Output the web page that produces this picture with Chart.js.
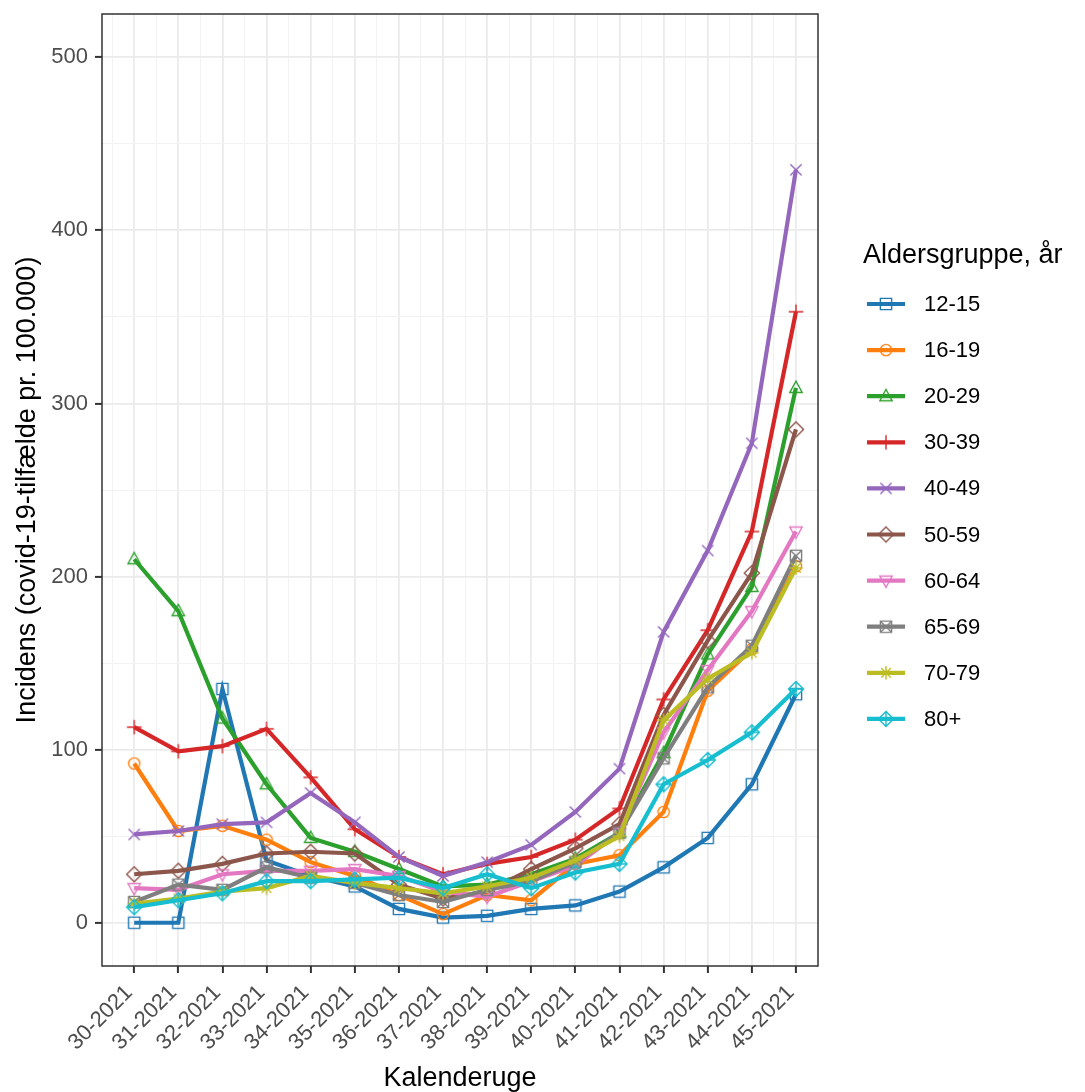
<!DOCTYPE html>
<html>
<head>
<meta charset="utf-8">
<script src="https://cdn.jsdelivr.net/npm/chart.js@4.4.1/dist/chart.umd.min.js"></script>
<style>
  html, body { margin: 0; padding: 0; background: #fff; }
  #wrap { width: 1085px; height: 1092px; }
</style>
</head>
<body>
<div id="wrap"><canvas id="incChart" width="1085" height="1092"></canvas></div>
<script>
// Uger og aldersgrupper
const weeks = ["30-2021", "31-2021", "32-2021", "33-2021", "34-2021", "35-2021", "36-2021", "37-2021",
  "38-2021", "39-2021", "40-2021", "41-2021", "42-2021", "43-2021", "44-2021", "45-2021"];
const groups = ["12-15", "16-19", "20-29", "30-39", "40-49", "50-59", "60-64", "65-69", "70-79", "80+"];

// Incidens pr. 100.000
const inc12_15 = [0, 0, 135, 36, 27, 21, 8, 3, 4, 8, 10, 18, 32, 49, 80, 132];
const inc16_19 = [92, 53, 56, 48, 35, 27, 16, 5, 16, 13, 34, 39, 64, 134, 158, 206];
const inc20_29 = [210, 180, 118, 80, 49, 41, 31, 21, 22, 28, 37, 52, 98, 155, 194, 309];
const inc30_39 = [113, 99, 102, 112, 84, 54, 38, 28, 34, 38, 48, 66, 129, 169, 226, 353];
const inc40_49 = [51, 53, 57, 58, 75, 58, 38, 27, 35, 45, 64, 89, 168, 215, 277, 435];
const inc50_59 = [28, 30, 34, 40, 41, 40, 22, 14, 18, 31, 43, 57, 120, 163, 202, 285];
const inc60_64 = [20, 19, 28, 30, 30, 31, 27, 18, 15, 24, 33, 52, 110, 146, 180, 226];
const inc65_69 = [12, 22, 19, 32, 26, 23, 16, 12, 19, 24, 35, 52, 95, 136, 160, 212];
const inc70_79 = [11, 14, 18, 20, 27, 23, 20, 17, 21, 26, 36, 50, 117, 141, 156, 205];
const inc80p = [9, 13, 17, 24, 24, 25, 26, 20, 28, 20, 29, 34, 80, 94, 110, 135];

const yTicks = [0, 100, 200, 300, 400, 500];

const seriesValues = [inc12_15, inc16_19, inc20_29, inc30_39, inc40_49, inc50_59, inc60_64, inc65_69, inc70_79, inc80p];
const colors = ["#1F77B4", "#FF7F0E", "#2CA02C", "#D62728", "#9467BD", "#8C564B", "#E377C2", "#7F7F7F", "#BCBD22", "#17BECF"];
const shapes = ["square", "circle", "triangle", "plus", "cross", "diamond", "triangleDown", "squareX", "asterisk", "diamondPlus"];

const FONT = "'Liberation Sans', Arial, sans-serif";

// ggplot-lignende markører tegnet på små canvas
function makeMarker(shape, color) {
  const S = 20, c = S / 2, r = 5.6;
  const cv = document.createElement("canvas");
  cv.width = S; cv.height = S;
  const g = cv.getContext("2d");
  g.strokeStyle = color;
  g.lineWidth = 1.4;
  g.beginPath();
  if (shape === "square" || shape === "squareX") {
    g.rect(c - r, c - r, 2 * r, 2 * r);
    if (shape === "squareX") {
      g.moveTo(c - r, c - r); g.lineTo(c + r, c + r);
      g.moveTo(c + r, c - r); g.lineTo(c - r, c + r);
    }
  } else if (shape === "circle") {
    g.arc(c, c, r, 0, Math.PI * 2);
  } else if (shape === "triangle") {
    g.moveTo(c, c - r * 1.2); g.lineTo(c + r * 1.1, c + r * 0.8); g.lineTo(c - r * 1.1, c + r * 0.8); g.closePath();
  } else if (shape === "triangleDown") {
    g.moveTo(c, c + r * 1.2); g.lineTo(c + r * 1.1, c - r * 0.8); g.lineTo(c - r * 1.1, c - r * 0.8); g.closePath();
  } else if (shape === "plus") {
    g.moveTo(c - r * 1.3, c); g.lineTo(c + r * 1.3, c);
    g.moveTo(c, c - r * 1.3); g.lineTo(c, c + r * 1.3);
  } else if (shape === "cross") {
    g.moveTo(c - r, c - r); g.lineTo(c + r, c + r);
    g.moveTo(c + r, c - r); g.lineTo(c - r, c + r);
  } else if (shape === "diamond" || shape === "diamondPlus") {
    const d = r * 1.35;
    g.moveTo(c, c - d); g.lineTo(c + d, c); g.lineTo(c, c + d); g.lineTo(c - d, c); g.closePath();
    if (shape === "diamondPlus") {
      g.moveTo(c - d, c); g.lineTo(c + d, c);
      g.moveTo(c, c - d); g.lineTo(c, c + d);
    }
  } else if (shape === "asterisk") {
    g.moveTo(c - r * 1.2, c); g.lineTo(c + r * 1.2, c);
    g.moveTo(c, c - r * 1.2); g.lineTo(c, c + r * 1.2);
    g.moveTo(c - r * 0.85, c - r * 0.85); g.lineTo(c + r * 0.85, c + r * 0.85);
    g.moveTo(c + r * 0.85, c - r * 0.85); g.lineTo(c - r * 0.85, c + r * 0.85);
  }
  g.stroke();
  return cv;
}

const markers = shapes.map((s, i) => makeMarker(s, colors[i]));

const datasets = groups.map((name, i) => ({
  label: name,
  data: seriesValues[i].map((v, k) => ({ x: k, y: v })),
  borderColor: colors[i],
  backgroundColor: colors[i],
  borderWidth: 4.2,
  tension: 0,
  fill: false,
  pointStyle: markers[i],
  pointRadius: 6,
  order: groups.length - 1 - i,
}));

// panelramme
const panelBorder = {
  id: "panelBorder",
  afterDraw(chart) {
    const { ctx, chartArea: a } = chart;
    ctx.save();
    ctx.strokeStyle = "#333333";
    ctx.lineWidth = 1.5;
    ctx.strokeRect(a.left, a.top, a.right - a.left, a.bottom - a.top);
    ctx.restore();
  },
};

// forklaring til højre, som i ggplot
const sideLegend = {
  id: "sideLegend",
  afterDraw(chart) {
    const ctx = chart.ctx;
    ctx.save();
    ctx.fillStyle = "#000";
    ctx.textBaseline = "alphabetic";
    ctx.textAlign = "left";
    ctx.font = "27px " + FONT;
    ctx.fillText("Aldersgruppe, år", 863, 263);
    ctx.font = "22px " + FONT;
    ctx.textBaseline = "middle";
    chart.data.datasets.forEach((ds, i) => {
      const y = 304 + i * 46.1;
      ctx.strokeStyle = ds.borderColor;
      ctx.lineWidth = 4.2;
      ctx.beginPath();
      ctx.moveTo(867, y);
      ctx.lineTo(905, y);
      ctx.stroke();
      const m = ds.pointStyle;
      ctx.drawImage(m, 886 - m.width / 2, y - m.height / 2);
      ctx.fillStyle = "#000";
      ctx.fillText(ds.label, 924, y + 1);
    });
    ctx.restore();
  },
};

const isInt = (v) => Math.abs(v - Math.round(v)) < 1e-6;

new Chart(document.getElementById("incChart"), {
  type: "line",
  data: { datasets },
  plugins: [panelBorder, sideLegend],
  options: {
    responsive: false,
    animation: false,
    layout: { padding: { left: 0, top: 14, right: 267, bottom: 0 } },
    plugins: {
      legend: { display: false },
      tooltip: { enabled: false },
    },
    scales: {
      x: {
        type: "linear",
        min: -0.73,
        max: 15.5,
        afterBuildTicks: (scale) => {
          const t = [];
          for (let v = -0.5; v <= 15.01; v += 0.5) t.push({ value: v });
          scale.ticks = t;
        },
        afterFit: (scale) => {
          scale.height = 126;
          scale.paddingLeft = 0;
          scale.paddingRight = 0;
        },
        border: { display: false },
        grid: {
          color: (c) => (isInt(c.tick.value) ? "#EBEBEB" : "#F2F2F2"),
          lineWidth: (c) => (isInt(c.tick.value) ? 1.8 : 1),
          tickColor: (c) => (isInt(c.tick.value) ? "#333333" : "rgba(0,0,0,0)"),
          tickLength: 7,
          tickWidth: 2,
        },
        ticks: {
          autoSkip: false,
          minRotation: 45,
          maxRotation: 45,
          padding: 7,
          labelOffset: -5,
          color: "#4D4D4D",
          font: { family: FONT, size: 22 },
          callback: (v) => (isInt(v) ? weeks[Math.round(v)] : ""),
        },
        title: {
          display: true,
          text: "Kalenderuge",
          color: "#000",
          font: { family: FONT, size: 27, lineHeight: 1 },
          padding: { top: 0, bottom: 0 },
        },
      },
      y: {
        type: "linear",
        min: -25,
        max: 525,
        afterBuildTicks: (scale) => {
          const t = [];
          for (let v = 0; v <= 500; v += 50) t.push({ value: v });
          scale.ticks = t;
        },
        afterFit: (scale) => {
          scale.width = 102;
          scale.paddingTop = 0;
          scale.paddingBottom = 0;
        },
        border: { display: false },
        grid: {
          color: (c) => (c.tick.value % 100 === 0 ? "#EBEBEB" : "#F2F2F2"),
          lineWidth: (c) => (c.tick.value % 100 === 0 ? 1.8 : 1),
          tickColor: (c) => (c.tick.value % 100 === 0 ? "#333333" : "rgba(0,0,0,0)"),
          tickLength: 7,
          tickWidth: 2,
        },
        ticks: {
          padding: 7,
          color: "#4D4D4D",
          font: { family: FONT, size: 22 },
          callback: (v) => (yTicks.includes(v) ? String(v) : ""),
        },
        title: {
          display: true,
          text: "Incidens (covid-19-tilfælde pr. 100.000)",
          color: "#000",
          font: { family: FONT, size: 27 },
          padding: { top: 11, bottom: 0 },
        },
      },
    },
  },
});
</script>
</body>
</html>
